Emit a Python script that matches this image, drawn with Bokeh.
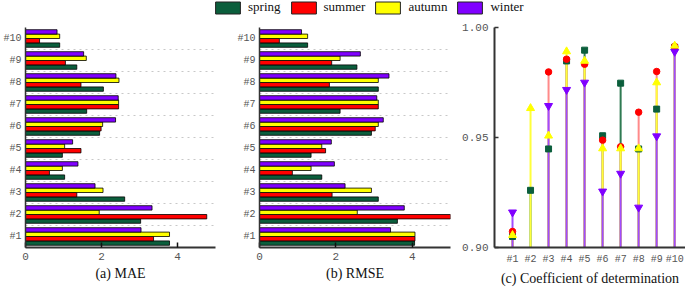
from bokeh.plotting import figure
from bokeh.models import (Range1d, FixedTicker, Legend, LegendItem, ColumnDataSource,
                          NumeralTickFormatter)
from bokeh.transform import dodge
from bokeh.layouts import column, row
from bokeh.embed import file_html
from bokeh.resources import INLINE

categories = ["#1", "#2", "#3", "#4", "#5", "#6", "#7", "#8", "#9", "#10"]
seasons = ["spring", "summer", "autumn", "winter"]
colors = ["#0b5e3c", "#ff0000", "#ffff00", "#8000ff"]
stem_colors = ["#2f7a52", "#ff8a8a", "#ffff3a", "#a04cff"]

mae_spring = [3.79, 3.03, 2.61, 1.03, 0.97, 1.95, 1.61, 2.05, 1.35, 0.90]
mae_summer = [3.37, 4.77, 1.35, 0.63, 1.46, 1.99, 2.45, 1.46, 1.05, 0.37]
mae_autumn = [3.79, 1.94, 2.04, 0.97, 1.03, 2.03, 2.45, 2.46, 1.60, 0.90]
mae_winter = [3.04, 3.33, 1.83, 1.38, 1.24, 2.37, 2.44, 2.38, 1.53, 0.83]

rmse_spring = [4.06, 3.61, 3.11, 1.63, 1.35, 2.93, 2.11, 3.11, 2.55, 1.26]
rmse_summer = [4.07, 5.12, 1.90, 0.86, 1.73, 3.03, 3.11, 1.83, 1.89, 0.52]
rmse_autumn = [4.07, 2.56, 2.93, 1.35, 1.63, 3.11, 3.11, 3.11, 2.11, 1.26]
rmse_winter = [3.43, 3.79, 2.24, 1.96, 1.88, 3.24, 3.07, 3.39, 2.64, 1.10]

r2_spring = [0.905, 0.926, 0.9448, 0.9848, 0.9897, 0.9508, 0.9747, 0.9448, 0.9629, 0.9910]
r2_summer = [0.9073, 0.890, 0.9798, 0.9856, 0.9833, 0.9488, 0.9458, 0.9615, 0.9800, 0.9914]
r2_autumn = [0.9056, 0.9633, 0.9508, 0.9891, 0.9848, 0.9450, 0.9450, 0.9450, 0.9750, 0.9917]
r2_winter = [0.9160, 0.885, 0.9644, 0.9717, 0.9750, 0.9255, 0.9336, 0.9182, 0.9506, 0.9890]

bar_ticks = [0, 2, 4]
r2_ticks = [0.90, 0.95, 1.00]

SERIF = "Liberation Serif"
MONO = "Liberation Mono"
AXIS_COLOR = "#333333"
LABEL_COLOR = "#555555"


def style_title(axis, title):
    axis.axis_label = title
    axis.axis_label_text_font = SERIF
    axis.axis_label_text_font_size = "14px"
    axis.axis_label_text_font_style = "normal"
    axis.axis_label_text_color = "#111111"
    axis.axis_label_text_line_height = 1.0
    axis.major_label_text_line_height = 1.0
    axis.axis_label_standoff = 3


def bar_panel(values, title, width, left, right):
    n = len(categories)
    centers = [i + 0.5 for i in range(n)]
    data = dict(y=centers)
    for s, v in zip(seasons, values):
        data[s] = v
    src = ColumnDataSource(data)
    p = figure(width=width, height=268, x_range=Range1d(0, 5), y_range=Range1d(0, n),
               output_backend="svg", toolbar_location=None,
               min_border_left=left, min_border_right=right,
               min_border_top=7, min_border_bottom=41)
    offsets = [-0.3, -0.1, 0.1, 0.3]
    for s, c, off in zip(seasons, colors, offsets):
        p.hbar(y=dodge("y", off), left=0, right=s, height=0.2, source=src,
               fill_color=c, line_color="black", line_width=0.8)
    p.outline_line_color = None
    p.xgrid.visible = False
    p.ygrid.ticker = FixedTicker(ticks=[i for i in range(1, n)])
    p.ygrid.grid_line_color = "#c8c8c8"
    p.ygrid.grid_line_dash = "dotted"
    p.ygrid.grid_line_width = 1

    p.xaxis.ticker = FixedTicker(ticks=bar_ticks)
    p.xaxis.major_tick_in = 5
    p.xaxis.major_tick_out = 0
    p.xaxis.minor_tick_line_color = None
    p.xaxis.axis_line_width = 2
    p.xaxis.axis_line_color = AXIS_COLOR
    p.xaxis.major_tick_line_color = "#111111"
    p.xaxis.major_tick_line_width = 1.5
    p.xaxis.major_label_text_font = MONO
    p.xaxis.major_label_text_font_size = "11px"
    p.xaxis.major_label_text_color = LABEL_COLOR
    p.xaxis.major_label_standoff = 5
    style_title(p.xaxis, title)

    p.yaxis.ticker = FixedTicker(ticks=centers)
    p.yaxis.major_label_overrides = {c: lab for c, lab in zip(centers, categories)}
    p.yaxis.major_tick_in = 0
    p.yaxis.major_tick_out = 0
    p.yaxis.minor_tick_line_color = None
    p.yaxis.axis_line_width = 1.5
    p.yaxis.axis_line_color = AXIS_COLOR
    p.yaxis.major_label_text_font = MONO
    p.yaxis.major_label_text_font_size = "10px"
    p.yaxis.major_label_text_color = LABEL_COLOR
    p.yaxis.major_label_standoff = 4
    return p


pa = bar_panel([mae_spring, mae_summer, mae_autumn, mae_winter], "(a) MAE", 225, 24, 10)
pb = bar_panel([rmse_spring, rmse_summer, rmse_autumn, rmse_winter], "(b) RMSE", 230, 34, 5)

# Panel (c)
xs = list(range(1, len(categories) + 1))
src_c = ColumnDataSource(dict(x=xs, spring=r2_spring, summer=r2_summer,
                              autumn=r2_autumn, winter=r2_winter))
pc = figure(width=230, height=268, x_range=Range1d(0, 10.6), y_range=Range1d(r2_ticks[0], r2_ticks[-1]),
            output_backend="svg", toolbar_location=None,
            min_border_left=39, min_border_right=0, min_border_top=7, min_border_bottom=41)
base = r2_ticks[0]
for s, c in zip(seasons, stem_colors):
    pc.segment(x0="x", y0=base, x1="x", y1=s, source=src_c, line_color=c, line_width=2)
markers = ["square", "circle", "triangle", "inverted_triangle"]
sizes = [6, 6.5, 8, 8]
for s, c, m, sz in zip(seasons, colors, markers, sizes):
    pc.scatter(x="x", y=s, source=src_c, marker=m, size=sz, fill_color=c, line_color=c)

pc.outline_line_color = None
pc.grid.visible = False
pc.xaxis.ticker = FixedTicker(ticks=xs)
pc.xaxis.major_label_overrides = {x: lab for x, lab in zip(xs, categories)}
pc.xaxis.major_tick_in = 0
pc.xaxis.major_tick_out = 0
pc.xaxis.minor_tick_line_color = None
pc.xaxis.axis_line_width = 2
pc.xaxis.axis_line_color = AXIS_COLOR
pc.xaxis.major_label_text_font = MONO
pc.xaxis.major_label_text_font_size = "10px"
pc.xaxis.major_label_text_color = LABEL_COLOR
pc.xaxis.major_label_standoff = 6
style_title(pc.xaxis, "(c) Coefficient of determination")

pc.yaxis.ticker = FixedTicker(ticks=r2_ticks)
pc.yaxis.formatter = NumeralTickFormatter(format="0.00")
pc.yaxis.major_tick_in = 4
pc.yaxis.major_tick_out = 0
pc.yaxis.minor_tick_line_color = None
pc.yaxis.axis_line_width = 2
pc.yaxis.axis_line_color = AXIS_COLOR
pc.yaxis.major_tick_line_color = AXIS_COLOR
pc.yaxis.major_tick_line_width = 1.5
pc.yaxis.major_label_text_font = MONO
pc.yaxis.major_label_text_font_size = "11px"
pc.yaxis.major_label_text_color = LABEL_COLOR
pc.yaxis.major_label_standoff = 6

# Legend strip (proxy glyphs sit outside the visible range; only their legend swatches show)
leg = figure(width=685, height=20, x_range=Range1d(0, 1), y_range=Range1d(0, 1),
             output_backend="svg", toolbar_location=None,
             x_axis_location=None, y_axis_location=None, min_border=0)
leg.grid.visible = False
leg.outline_line_color = None
proxy = ColumnDataSource(dict(x=[-5.0], y=[-5.0]))
items = []
for s, c in zip(seasons, colors):
    r = leg.rect(x="x", y="y", width=1, height=1, source=proxy,
                 fill_color=c, line_color="#222222", line_width=1)
    items.append(LegendItem(label=s, renderers=[r]))
legend = Legend(items=items, orientation="horizontal", location=(212, 5),
                glyph_width=31, glyph_height=15, label_standoff=5, spacing=7,
                padding=0, margin=0, border_line_color=None, background_fill_alpha=0,
                label_text_font=SERIF, label_text_font_size="13px", label_height=15,
                label_text_color="#111111")
leg.add_layout(legend, "center")

layout = column(leg, row(pa, pb, pc, spacing=0), spacing=0)
open("out.html", "w").write(file_html(layout, INLINE))
